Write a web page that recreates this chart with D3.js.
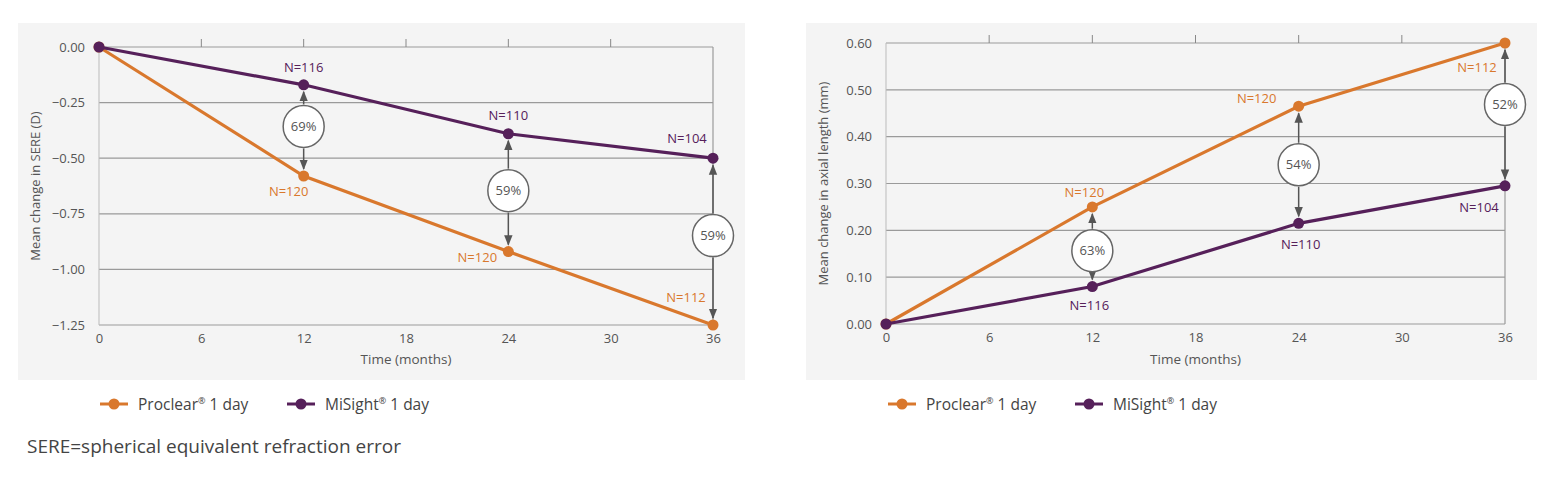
<!DOCTYPE html><html><head><meta charset="utf-8">
<script src="https://cdn.jsdelivr.net/npm/d3@7"></script>
<style>body{margin:0;background:#fff}svg{font-family:"Open Sans","Noto Sans",sans-serif}</style></head><body>
<svg id="c" width="1567" height="478"></svg>
<script>
const months=[0,12,24,36];
const xTicks=[0,6,12,18,24,30,36];
const sereProclear=[0,-0.58,-0.92,-1.25];
const sereMiSight=[0,-0.17,-0.39,-0.50];
const sereTicks=[0,-0.25,-0.5,-0.75,-1.0,-1.25];
const sereProclearN=["","N=120","N=120","N=112"];
const sereMiSightN=["","N=116","N=110","N=104"];
const sereReduction=["","69%","59%","59%"];
const alProclear=[0,0.25,0.465,0.60];
const alMiSight=[0,0.08,0.215,0.295];
const alTicks=[0,0.1,0.2,0.3,0.4,0.5,0.6];
const alProclearN=["","N=120","N=120","N=112"];
const alMiSightN=["","N=116","N=110","N=104"];
const alReduction=["","63%","54%","52%"];
const ORANGE="#d9782d",PURPLE="#56205a";
const svg=d3.select("#c");
svg.append("defs").append("marker").attr("id","ar").attr("viewBox","0 0 10 10").attr("refX",9).attr("refY",5)
 .attr("markerWidth",7).attr("markerHeight",7).attr("orient","auto-start-reverse")
 .append("path").attr("d","M0,1L10,5L0,9z").attr("fill","#555");

function chart(o){
 const g=svg.append("g");
 g.append("rect").attr("x",o.bx).attr("y",23).attr("width",o.bw).attr("height",357).attr("fill","#f4f4f4");
 const x=d3.scaleLinear().domain([0,36]).range([o.x0,o.x1]);
 const y=d3.scaleLinear().domain(o.dom).range([o.y1,o.y0]);
 o.ticks.forEach(t=>g.append("line").attr("x1",o.x0).attr("x2",o.x1).attr("y1",y(t)).attr("y2",y(t)).attr("stroke","#9a9a9a").attr("stroke-width",1.2));
 g.append("line").attr("x1",o.x1).attr("x2",o.x1).attr("y1",o.y0).attr("y2",o.y1).attr("stroke","#9a9a9a").attr("stroke-width",1.2);
 g.append("line").attr("x1",o.x0).attr("x2",o.x0).attr("y1",o.y0).attr("y2",o.y1).attr("stroke","#bbb");
 xTicks.slice(1,-1).forEach(t=>g.append("line").attr("x1",x(t)).attr("x2",x(t)).attr("y1",o.y0).attr("y2",o.y0-8).attr("stroke","#888"));
 const ya=g.append("g").attr("transform",`translate(${o.x0},0)`).call(d3.axisLeft(y).tickValues(o.ticks).tickFormat(d3.format(".2f")).tickSize(0).tickPadding(14));
 ya.select(".domain").remove();ya.selectAll("text").attr("font-size",13).attr("fill","#555").attr("font-family","'Open Sans',sans-serif");
 const xa=g.append("g").attr("transform",`translate(0,${y(o.dom[0])})`).call(d3.axisBottom(x).tickValues(xTicks).tickSize(0).tickPadding(9));
 xa.select(".domain").remove();xa.selectAll("text").attr("font-size",13).attr("fill","#555").attr("font-family","'Open Sans',sans-serif");
 g.append("text").attr("x",(o.x0+o.x1)/2).attr("y",364).attr("text-anchor","middle").attr("font-size",13.5).attr("fill","#555").text("Time (months)");
 g.append("text").attr("transform",`translate(${o.bx+22},${(o.y0+o.y1)/2}) rotate(-90)`).attr("text-anchor","middle").attr("font-size",13).attr("fill","#555").text(o.ylab);
 months.forEach((m,i)=>{ if(!o.red[i])return;
  const yp=y(o.p[i]),ym=y(o.m[i]),c=(yp+ym)/2+o.shift[i];
  const top=Math.min(yp,ym),bot=Math.max(yp,ym);
  g.append("line").attr("x1",x(m)).attr("x2",x(m)).attr("y1",c-22).attr("y2",top+7).attr("stroke","#555").attr("stroke-width",1.5).attr("marker-end","url(#ar)");
  g.append("line").attr("x1",x(m)).attr("x2",x(m)).attr("y1",c+22).attr("y2",bot-7).attr("stroke","#555").attr("stroke-width",1.5).attr("marker-end","url(#ar)");
  g.append("ellipse").attr("cx",x(m)).attr("cy",c).attr("rx",20.5).attr("ry",21).attr("fill","#fff").attr("stroke","#666").attr("stroke-width",1.5);
  g.append("text").attr("x",x(m)).attr("y",c+4.5).attr("text-anchor","middle").attr("font-size",13).attr("fill","#555").text(o.red[i]);
 });
 const line=d3.line().x((d,i)=>x(months[i])).y(d=>y(d));
 [[o.p,ORANGE,o.pN,o.pOff],[o.m,PURPLE,o.mN,o.mOff]].forEach(([v,col,N,off])=>{
  g.append("path").attr("d",line(v)).attr("fill","none").attr("stroke",col).attr("stroke-width",3.2);
  v.forEach((d,i)=>{g.append("circle").attr("cx",x(months[i])).attr("cy",y(d)).attr("r",5.5).attr("fill",col);
   if(N[i])g.append("text").attr("x",x(months[i])+off[i][0]).attr("y",y(d)+off[i][1]).attr("text-anchor","middle").attr("font-size",13).attr("fill",col).text(N[i]);});
 });
 const lx=o.bx+82;
 [[ORANGE,"Proclear",0],[PURPLE,"MiSight",187]].forEach(([col,name,dx])=>{
  g.append("line").attr("x1",lx+dx).attr("x2",lx+dx+28).attr("y1",404).attr("y2",404).attr("stroke",col).attr("stroke-width",3);
  g.append("circle").attr("cx",lx+dx+14).attr("cy",404).attr("r",5.5).attr("fill",col);
  const t=g.append("text").attr("x",lx+dx+38).attr("y",409.5).attr("font-size",15.5).attr("fill","#444");
  t.append("tspan").text(name);t.append("tspan").attr("dy",-6).attr("font-size",9).text("®");t.append("tspan").attr("dy",6).text(" 1 day");
 });
}
chart({bx:18,bw:727,x0:99,x1:713,y0:47,y1:325,dom:[-1.25,0],ticks:sereTicks,ylab:"Mean change in SERE (D)",
 p:sereProclear,m:sereMiSight,pN:sereProclearN,mN:sereMiSightN,red:sereReduction,shift:[0,-4,-2,-6],
 pOff:[0,[-15,20],[-31,10],[-27,-23]],mOff:[0,[0,-13],[0,-14],[-26,-15]]});
chart({bx:806,bw:731,x0:886,x1:1505,y0:43,y1:324,dom:[0,0.6],ticks:alTicks,ylab:"Mean change in axial length (mm)",
 p:alProclear,m:alMiSight,pN:alProclearN,mN:alMiSightN,red:alReduction,shift:[0,4,0,-10],
 pOff:[0,[-8,-10],[-42,-3],[-28,29]],mOff:[0,[-3,23],[2,26],[-26,26]]});
svg.append("text").attr("x",27).attr("y",453).attr("font-size",19).attr("fill","#444").text("SERE=spherical equivalent refraction error");
</script></body></html>
